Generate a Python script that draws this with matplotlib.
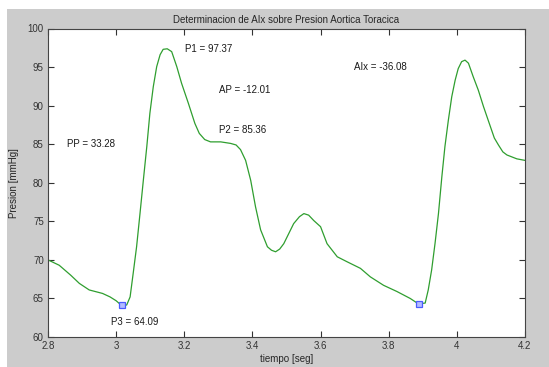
import matplotlib
matplotlib.use('Agg')
import matplotlib.pyplot as plt
from matplotlib.patches import Rectangle

# --- data ---
tiempo = [2.800, 2.833, 2.867, 2.892, 2.921, 2.960, 2.982, 3.000, 3.016, 3.031,
          3.041, 3.050, 3.060, 3.070, 3.080, 3.090, 3.099, 3.109, 3.119, 3.129,
          3.138, 3.150, 3.163, 3.178, 3.192, 3.212, 3.231, 3.244, 3.260, 3.277,
          3.307, 3.336, 3.352, 3.365, 3.380, 3.395, 3.409, 3.424, 3.444, 3.456,
          3.468, 3.480, 3.492, 3.521, 3.538, 3.551, 3.565, 3.580, 3.600, 3.619,
          3.649, 3.678, 3.717, 3.746, 3.785, 3.824, 3.863, 3.887, 3.907, 3.916,
          3.926, 3.936, 3.946, 3.956, 3.965, 3.975, 3.985, 3.995, 4.004, 4.014,
          4.024, 4.034, 4.048, 4.063, 4.078, 4.092, 4.110, 4.122, 4.135, 4.147,
          4.176, 4.200]
presion = [70.0, 69.3, 68.0, 66.95, 66.1, 65.65, 65.2, 64.7, 64.09, 64.15,
           65.2, 68.25, 71.7, 76.0, 80.4, 84.7, 89.0, 92.45, 95.05, 96.6,
           97.3, 97.37, 97.0, 95.05, 92.9, 90.3, 87.7, 86.4, 85.6, 85.3,
           85.3, 85.1, 84.9, 84.3, 82.9, 80.3, 76.9, 73.9, 71.7, 71.25,
           71.05, 71.4, 72.1, 74.7, 75.6, 76.0, 75.8, 75.1, 74.3, 72.1,
           70.4, 69.75, 68.9, 67.8, 66.7, 65.9, 65.0, 64.3, 64.4, 66.1,
           68.7, 72.15, 76.0, 80.8, 84.7, 88.1, 91.15, 93.3, 94.8, 95.7,
           95.9, 95.5, 93.75, 92.0, 89.9, 88.1, 85.8, 84.9, 84.0, 83.6,
           83.1, 82.9]

# diastolic minima (square markers)
min_t = [3.017, 3.888]
min_p = [64.09, 64.3]

# annotations: text, x, y
etiquetas = ['P1 = 97.37', 'AP = -12.01', 'P2 = 85.36', 'PP = 33.28', 'AIx = -36.08', 'P3 = 64.09']
etiq_x = [3.201, 3.302, 3.302, 2.855, 3.699, 2.985]
etiq_y = [97.4, 92.0, 86.9, 85.0, 95.0, 62.0]

xticks = [2.8, 3.0, 3.2, 3.4, 3.6, 3.8, 4.0, 4.2]
xtick_labels = ['2.8', '3', '3.2', '3.4', '3.6', '3.8', '4', '4.2']
yticks = [60, 65, 70, 75, 80, 85, 90, 95, 100]

# --- plot ---
plt.rcParams['font.family'] = ['Liberation Sans', 'DejaVu Sans']
W, H = 549, 367
fig = plt.figure(figsize=(W / 100, H / 100), dpi=100, facecolor='white')

# matlab-style grey figure panel
fig.patches.append(Rectangle((7 / W, 0), 1 - 7 / W, 1 - 9 / H, transform=fig.transFigure,
                             facecolor='#cccccc', edgecolor='none', zorder=-10))

ax = fig.add_axes([48 / W, 30 / H, (525 - 48) / W, (337 - 28.5) / H])
ax.set_zorder(1)
ax.set_facecolor('white')

ax.plot(tiempo, presion, color='#2f9e2f', linewidth=0.9)
ax.plot(min_t, min_p, linestyle='none', marker='s', markersize=5,
        markerfacecolor='#b4bcff', markeredgecolor='#4a5cff', markeredgewidth=0.9)

for txt, x, y in zip(etiquetas, etiq_x, etiq_y):
    ax.text(x, y, txt, fontsize=7, va='center', ha='left', color='#1a1a1a')

ax.set_xlim(2.8, 4.2)
ax.set_ylim(60, 100)
ax.set_xticks(xticks)
ax.set_xticklabels(xtick_labels)
ax.set_yticks(yticks)
ax.tick_params(direction='in', length=4, width=0.8, top=True, right=True,
               labelsize=7, colors='#333333', pad=3)
for s in ax.spines.values():
    s.set_color('#444444')
    s.set_linewidth(0.8)

ax.set_title('Determinacion de AIx sobre Presion Aortica Toracica', fontsize=7,
             color='#262626', pad=4)
ax.set_xlabel('tiempo [seg]', fontsize=7, color='#262626', labelpad=2)
ax.set_ylabel('Presion [mmHg]', fontsize=7, color='#262626', labelpad=6)

fig.savefig('out.png', dpi=100, facecolor='white')
